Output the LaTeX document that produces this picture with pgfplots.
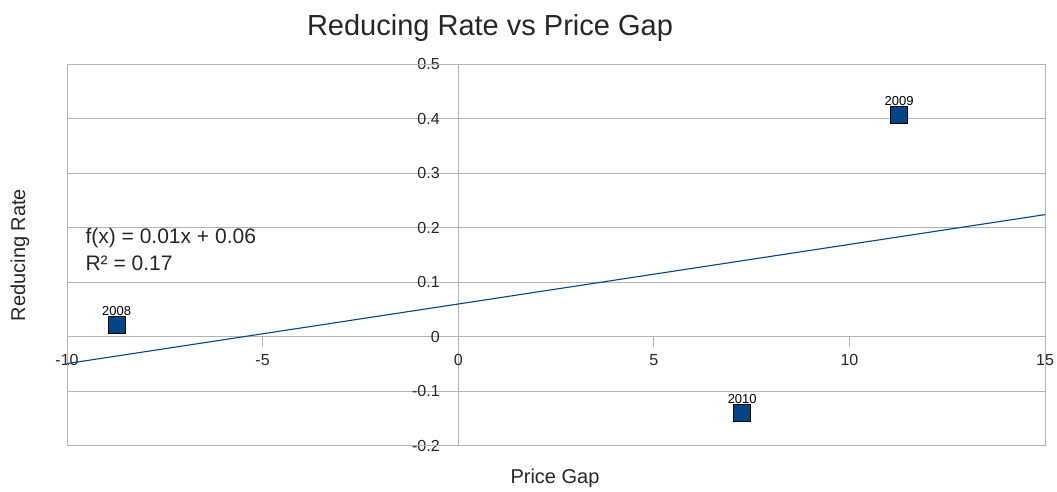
\documentclass[border=0pt]{standalone}
\usepackage{pgfplots}
\pgfplotsset{compat=1.18}
\usepackage{fontspec}
\setmainfont{Liberation Sans}
\definecolor{lobblue}{HTML}{004586}
\definecolor{gridgray}{HTML}{B3B3B3}
\begin{document}
\begin{tikzpicture}[x=1pt,y=1pt]
\useasboundingbox (0,0) rectangle (1057,492);
\begin{axis}[
  at={(67pt,46pt)}, anchor=south west,
  width=978pt, height=382pt, scale only axis,
  xmin=-10, xmax=15, ymin=-0.2, ymax=0.5,
  axis lines=middle,
  axis line style={-, draw=gridgray, line width=1pt},
  hide obscured x ticks=false, hide obscured y ticks=false,
  xtick={-10,-5,0,5,10,15},
  ytick={-0.2,-0.1,0,0.1,0.2,0.3,0.4,0.5},
  ymajorgrids, grid style={gridgray, line width=1pt},
  x tick style={draw=gridgray, line width=1pt},
  xtick align=outside, major tick length=10pt,
  y tick style={draw=none},
  /pgf/number format/assume math mode=true,
  /pgf/number format/fixed,
  tick label style={font=\fontsize{16}{16}\selectfont, text=black!85},
  xticklabel style={yshift=-4pt},
  yticklabel style={xshift=-10pt},
  clip=false,
]
\draw[gridgray, line width=1pt] (rel axis cs:0,0) rectangle (rel axis cs:1,1);
\addplot[lobblue, line width=1.1pt] coordinates {(-10,-0.049) (15,0.224)};
\addplot[only marks, mark=square*, mark size=8.5pt,
  mark options={fill=lobblue, draw=black, line width=1pt},
  nodes near coords, point meta=explicit symbolic,
  every node near coord/.style={font=\fontsize{13}{13}\selectfont, inner sep=1pt, yshift=8pt}]
  table[meta=label] {
x y label
-8.73 0.021 2008
11.27 0.407 2009
7.26 -0.140 2010
};
\end{axis}
\node[font=\fontsize{29}{29}\selectfont, text=black!85] at (490,464) {Reducing Rate vs Price Gap};
\node[font=\fontsize{20}{20}\selectfont, text=black!85, rotate=90] at (20,237) {Reducing Rate};
\node[font=\fontsize{20}{20}\selectfont, text=black!85] at (555,14) {Price Gap};
\node[font=\fontsize{21}{21}\selectfont, text=black!85, anchor=west] at (82,254) {f(x) = 0.01x + 0.06};
\node[font=\fontsize{21}{21}\selectfont, text=black!85, anchor=west] at (82,229) {R² = 0.17};
\end{tikzpicture}
\end{document}
